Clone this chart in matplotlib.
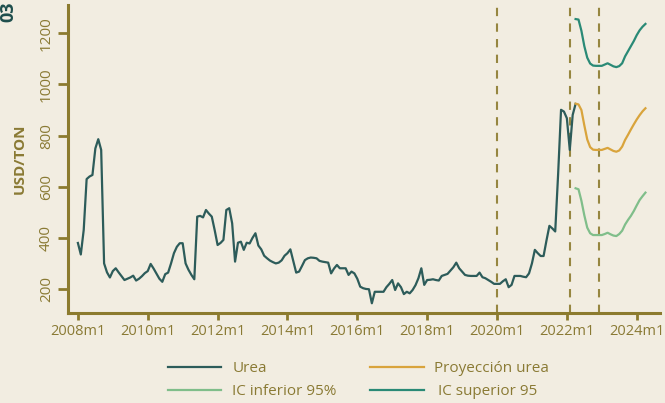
import matplotlib
matplotlib.use("Agg")
import matplotlib.pyplot as plt
import numpy as np

# ---------------- data ----------------
# observed monthly urea price (USD/ton), starting 2008m1
urea = [380, 335, 431, 630, 640, 646, 750, 786, 744, 300, 265, 245,
        270, 281, 265, 250, 235, 240, 245, 252, 233, 240, 250, 262,
        270, 298, 280, 260, 240, 228, 258, 264, 300, 340, 365, 379,
        379, 300, 275, 255, 238, 483, 486, 480, 509, 495, 483, 430,
        372, 380, 392, 509, 516, 457, 307, 381, 385, 353, 381, 378,
        400, 418, 370, 355, 330, 320, 311, 305, 300, 303, 312, 330,
        340, 355, 310, 264, 268, 290, 313, 320, 323, 322, 320, 310,
        307, 305, 303, 261, 280, 294, 281, 281, 281, 255, 268, 261,
        240, 209, 203, 200, 199, 144, 189, 189, 189, 189, 207, 220,
        235, 196, 222, 207, 180, 189, 183, 196, 215, 242, 281, 216,
        235, 236, 238, 235, 233, 251, 255, 259, 272, 285, 303, 281,
        268, 255, 252, 251, 251, 251, 264, 246, 242, 235, 228, 220,
        220, 220, 230, 238, 207, 216, 251, 251, 251, 248, 246, 261,
        300, 353, 340, 329, 329, 390, 447, 437, 425, 650, 901, 894,
        868, 744, 881, 924]
urea_start = 0  # month index of 2008m1

# projection (starts at month index 171)
proj_start = 171
proyeccion = [925, 922, 900, 840, 785, 755, 745, 744, 744, 744, 748, 752,
              746, 740, 737, 742, 757, 783, 803, 824, 844, 863, 880, 895, 907]
ic_inferior = [594, 590, 545, 488, 440, 418, 411, 411, 411, 411, 415, 420,
               414, 409, 407, 415, 428, 452, 470, 486, 505, 527, 548, 563, 577]
ic_superior = [1256, 1254, 1210, 1150, 1105, 1082, 1074, 1073, 1073, 1073, 1078, 1083,
               1077, 1071, 1068, 1072, 1083, 1110, 1130, 1150, 1170, 1193, 1212, 1226, 1237]

xtick_pos = [0, 24, 48, 72, 96, 120, 144, 168, 192]
xtick_labels = ["2008m1", "2010m1", "2012m1", "2014m1", "2016m1",
                "2018m1", "2020m1", "2022m1", "2024m1"]
ytick_vals = [200, 400, 600, 800, 1000, 1200]
vline_months = [144, 169, 179]

legend_labels = ["Urea", "Proyección urea", "IC inferior 95%", " IC superior 95"]

# ---------------- style ----------------
BG = "#F2EDE1"
OLIVE = "#8C7B2E"
TXT = "#8A7A34"
C_UREA = "#2D5C5A"
C_PROJ = "#D9A43C"
C_LOW = "#80BE8A"
C_UP = "#2A8A76"

plt.rcParams['font.family'] = ['Open Sans', 'DejaVu Sans']

fig = plt.figure(figsize=(6.65, 4.03), dpi=100, facecolor=BG)
ax = fig.add_axes([68/665, 1 - 313/403, (660-68)/665, (313-5)/403])
ax.set_facecolor(BG)

x_obs = np.arange(len(urea)) + urea_start
x_fc = np.arange(len(proyeccion)) + proj_start

for m in vline_months:
    ax.axvline(m, color=OLIVE, lw=1.5, ls=(0, (4, 3.5)), alpha=0.9, zorder=1)

l1, = ax.plot(x_obs, urea, color=C_UREA, lw=1.6, zorder=3)
l2, = ax.plot(x_fc, proyeccion, color=C_PROJ, lw=1.6, zorder=3)
l3, = ax.plot(x_fc, ic_inferior, color=C_LOW, lw=1.6, zorder=3)
l4, = ax.plot(x_fc, ic_superior, color=C_UP, lw=1.6, zorder=3)

ax.set_xlim(-3.4, 200)
ax.set_ylim(106, 1311)

for s in ['top', 'right']:
    ax.spines[s].set_visible(False)
for s in ['left', 'bottom']:
    ax.spines[s].set_color(OLIVE)
    ax.spines[s].set_linewidth(2.2)

ax.set_xticks(xtick_pos)
ax.set_xticklabels(xtick_labels)
ax.set_yticks(ytick_vals)
ax.set_yticklabels([str(v) for v in ytick_vals], rotation=90, va='center')

ax.tick_params(axis='x', colors=OLIVE, length=5, width=2, labelcolor=TXT,
               labelsize=10.5, pad=3)
ax.tick_params(axis='y', colors=OLIVE, length=7, width=2, labelcolor=TXT,
               labelsize=11, pad=3)

ax.set_ylabel("USD/TON", color=TXT, fontsize=11, fontweight='bold', labelpad=9)

# column-wise fill: col 1 = Urea, IC inferior ; col 2 = Proyección, IC superior
handles = [l1, l3, l2, l4]
labels = [legend_labels[0], legend_labels[2], legend_labels[1], legend_labels[3]]
leg = fig.legend(handles, labels, ncol=2,
                 loc='upper left', bbox_to_anchor=(168/665, 1 - 361/403),
                 frameon=False, fontsize=11, handlelength=3.5,
                 handletextpad=0.7, columnspacing=2.2, labelspacing=0.55,
                 borderpad=0, borderaxespad=0)
for t in leg.get_texts():
    t.set_color(TXT)

fig.text(17/665, 1 - 1/403, "03", rotation=90, ha='right', va='top',
         fontsize=13, fontweight='bold', color="#1E4E4C")

fig.savefig("out.png", dpi=100, facecolor=BG)
